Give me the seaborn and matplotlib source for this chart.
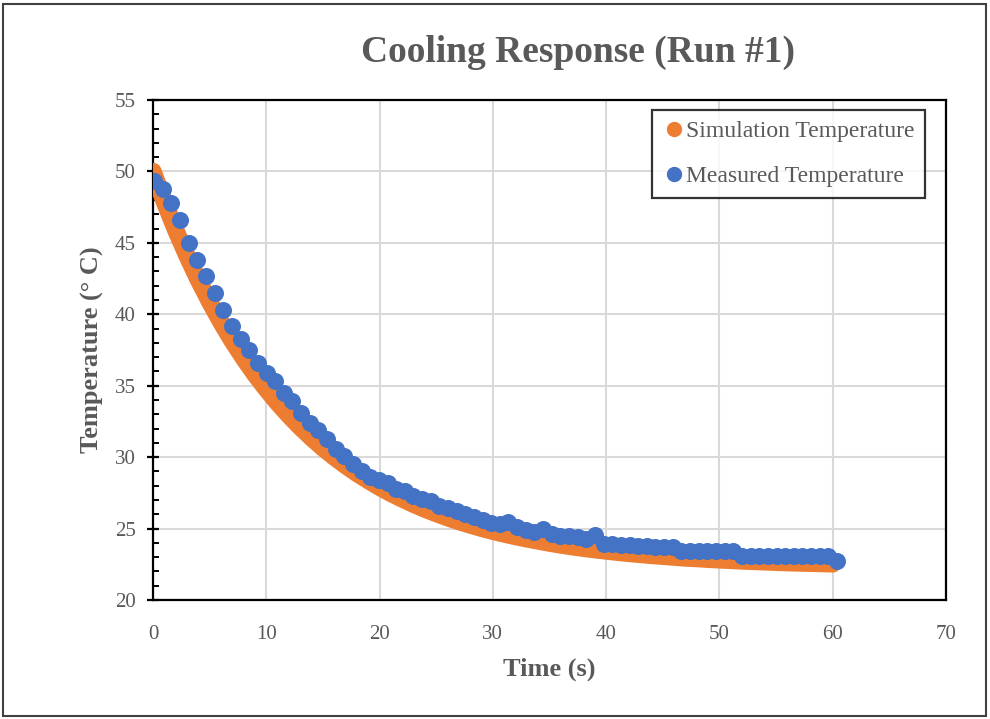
import matplotlib
matplotlib.use("Agg")
import matplotlib.pyplot as plt
import seaborn as sns
import pandas as pd
from matplotlib.lines import Line2D
from matplotlib.patches import Rectangle

# ---- data ----
sim_time = list(range(0, 61))
sim_temp = [50.00, 47.87, 45.90, 44.09, 42.41, 40.87, 39.44, 38.12, 36.91, 35.78,
            34.75, 33.79, 32.91, 32.09, 31.34, 30.64, 30.00, 29.41, 28.86, 28.36,
            27.89, 27.46, 27.07, 26.70, 26.36, 26.05, 25.76, 25.49, 25.25, 25.02,
            24.81, 24.62, 24.44, 24.28, 24.13, 23.98, 23.85, 23.73, 23.62, 23.52,
            23.43, 23.34, 23.26, 23.19, 23.12, 23.06, 23.00, 22.94, 22.90, 22.85,
            22.81, 22.77, 22.73, 22.70, 22.67, 22.64, 22.61, 22.59, 22.57, 22.55,
            22.53]

meas_time = [0.10, 0.86, 1.63, 2.39, 3.15, 3.92, 4.68, 5.44, 6.20, 6.97,
             7.73, 8.49, 9.26, 10.02, 10.78, 11.55, 12.31, 13.07, 13.83, 14.60,
             15.36, 16.12, 16.89, 17.65, 18.41, 19.18, 19.94, 20.70, 21.46, 22.23,
             22.99, 23.75, 24.52, 25.28, 26.04, 26.81, 27.57, 28.33, 29.09, 29.86,
             30.62, 31.38, 32.15, 32.91, 33.67, 34.44, 35.20, 35.96, 36.72, 37.49,
             38.25, 39.01, 39.78, 40.54, 41.30, 42.07, 42.83, 43.59, 44.35, 45.12,
             45.88, 46.64, 47.41, 48.17, 48.93, 49.70, 50.46, 51.22, 51.98, 52.75,
             53.51, 54.27, 55.04, 55.80, 56.56, 57.33, 58.09, 58.85, 59.62, 60.38]
meas_temp = [49.3, 48.8, 47.8, 46.6, 45.0, 43.8, 42.7, 41.5, 40.3, 39.2,
             38.3, 37.5, 36.6, 35.9, 35.3, 34.5, 33.9, 33.1, 32.4, 31.9,
             31.3, 30.6, 30.1, 29.5, 29.0, 28.6, 28.4, 28.2, 27.8, 27.6,
             27.3, 27.1, 26.9, 26.6, 26.45, 26.25, 26.0, 25.8, 25.6, 25.4,
             25.35, 25.45, 25.1, 24.9, 24.75, 24.95, 24.6, 24.5, 24.45, 24.4,
             24.3, 24.55, 23.9, 23.9, 23.85, 23.85, 23.8, 23.75, 23.7, 23.7,
             23.7, 23.45, 23.45, 23.4, 23.4, 23.4, 23.4, 23.4, 23.1, 23.1,
             23.1, 23.1, 23.1, 23.05, 23.05, 23.05, 23.05, 23.05, 23.05, 22.7]

title = "Cooling Response (Run #1)"
xlabel = "Time (s)"
ylabel = "Temperature (° C)"
sim_label = "Simulation Temperature"
meas_label = "Measured Temperature"

ORANGE = "#ED7D31"
BLUE = "#4472C4"
GRAY = "#595959"

sns.set_style("white")
plt.rcParams["font.family"] = ["Liberation Serif", "DejaVu Serif"]

fig = plt.figure(figsize=(9.9, 7.19), dpi=100)
ax = fig.add_axes([153 / 990, 1 - 600 / 719, (946 - 153) / 990, 500 / 719])

sim_df = pd.DataFrame({"t": sim_time, "T": sim_temp})
meas_df = pd.DataFrame({"t": meas_time, "T": meas_temp})

sns.lineplot(data=sim_df, x="t", y="T", ax=ax, color=ORANGE, lw=12.5,
             solid_capstyle="round", solid_joinstyle="round", zorder=3,
             legend=False)
sns.scatterplot(data=meas_df, x="t", y="T", ax=ax, color=BLUE, s=150,
                linewidth=0, zorder=4, legend=False)

ax.set_xlim(0, 70)
ax.set_ylim(20, 55)
ax.set_xticks(range(0, 71, 10))
ax.set_yticks(range(20, 56, 5))
ax.set_yticks(range(20, 56, 1), minor=True)
ax.grid(True, which="major", color="#d9d9d9", lw=1.5, zorder=0)
ax.set_axisbelow(True)

for s in ax.spines.values():
    s.set_color("black")
    s.set_linewidth(1.6)
    s.set_visible(True)

ax.tick_params(axis="y", which="major", direction="inout", length=9, width=1.6,
               color="black", labelsize=15, labelcolor=GRAY, pad=8, left=True)
ax.tick_params(axis="y", which="minor", direction="in", length=4, width=1.4,
               color="black", left=True)
ax.tick_params(axis="x", which="both", length=0, labelsize=15, labelcolor=GRAY,
               pad=18)

ax.set_xlabel(xlabel, fontsize=19, fontweight="bold", color=GRAY, labelpad=10)
ax.set_ylabel(ylabel, fontsize=19, fontweight="bold", color=GRAY, labelpad=8)

fig.text(578 / 990, 1 - 52 / 719, title, ha="center", va="center",
         fontsize=27, fontweight="bold", color=GRAY)

handles = [Line2D([], [], marker="o", ls="", color=ORANGE, markersize=10),
           Line2D([], [], marker="o", ls="", color=BLUE, markersize=10)]
leg = ax.legend(handles, [sim_label, meas_label], loc="upper right",
                bbox_to_anchor=(925 / 990, 1 - 110 / 719),
                bbox_transform=fig.transFigure, frameon=True, fancybox=False,
                fontsize=17, handletextpad=0.0, handlelength=1.0,
                labelspacing=1.0, borderpad=0.45, borderaxespad=0)
leg.get_frame().set_edgecolor("black")
leg.get_frame().set_linewidth(1.6)
for t in leg.get_texts():
    t.set_color(GRAY)

fig.patches.append(Rectangle((3 / 990, 3 / 719), 983 / 990, 712 / 719,
                             transform=fig.transFigure, fill=False,
                             edgecolor="#404040", lw=1.5))

fig.savefig("out.png", dpi=100)
